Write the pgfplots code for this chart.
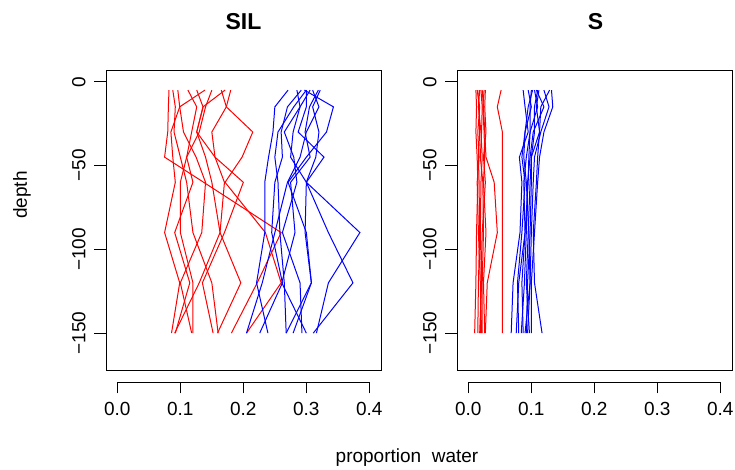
\documentclass[border=0pt]{standalone}
\usepackage{fontspec}
\setmainfont{Liberation Sans}
\usepackage{pgfplots}
\pgfplotsset{compat=1.18}
\definecolor{rred}{HTML}{FF0000}
\definecolor{rblue}{HTML}{0000FF}

\pgfplotsset{
  panel/.style={scale only axis, width=275pt, height=300pt,
    xmin=-0.018, xmax=0.4185, ymin=-172, ymax=7,
    xtick=\empty, ytick={0,-50,-100,-150}, yticklabels={0,−50,−100,−150},
    ytick pos=left, tick align=outside, major tick length=12pt,
    tick style={black, line width=0.8pt},
    axis line style={black, line width=0.8pt},
    yticklabel shift=5pt,
    yticklabel style={rotate=90, anchor=south, font=\fontsize{19}{22}\selectfont},
    every axis plot/.append style={line width=1pt, mark=none}},
  xdeco/.style={scale only axis, width=252pt, height=10pt,
    xmin=0, xmax=0.4, ymin=0, ymax=1,
    axis x line=bottom, axis y line=none, x axis line style={-, line width=0.8pt},
    xtick={0,0.1,0.2,0.3,0.4}, xticklabels={0.0,0.1,0.2,0.3,0.4}, ytick=\empty,
    tick align=outside, major tick length=11.4pt, tick style={black, line width=0.8pt},
    xticklabel shift=5pt,
    xticklabel style={font=\fontsize{19}{22}\selectfont}}
}

\begin{document}
\begin{tikzpicture}[x=1pt, y=1pt]
\path[use as bounding box] (0,0) rectangle (735,470);

% ---------------- left panel: SIL ----------------
\begin{axis}[panel, at={(106pt,100pt)}, anchor=south west]
\addplot[rred] coordinates {(0.082,-5)(0.081,-15)(0.080,-30)(0.075,-45)(0.137,-60)(0.260,-90)(0.222,-120)(0.181,-150)};
\addplot[rred] coordinates {(0.180,-5)(0.173,-15)(0.215,-30)(0.198,-45)(0.171,-60)(0.235,-90)(0.260,-120)(0.205,-150)};
\addplot[rred] coordinates {(0.096,-5)(0.099,-15)(0.085,-30)(0.088,-45)(0.092,-60)(0.075,-90)(0.099,-120)(0.086,-150)};
\addplot[rred] coordinates {(0.112,-5)(0.126,-15)(0.118,-30)(0.110,-45)(0.120,-60)(0.091,-90)(0.115,-120)(0.092,-150)};
\addplot[rred] coordinates {(0.139,-5)(0.099,-15)(0.105,-30)(0.125,-45)(0.140,-60)(0.134,-90)(0.100,-120)(0.118,-150)};
\addplot[rred] coordinates {(0.126,-5)(0.136,-15)(0.126,-30)(0.140,-45)(0.150,-60)(0.163,-90)(0.196,-120)(0.159,-150)};
\addplot[rred] coordinates {(0.165,-5)(0.173,-15)(0.150,-30)(0.155,-45)(0.200,-60)(0.170,-90)(0.135,-120)(0.152,-150)};
\addplot[rred] coordinates {(0.171,-5)(0.136,-15)(0.126,-30)(0.155,-45)(0.170,-60)(0.163,-90)(0.130,-120)(0.091,-150)};
\addplot[rred] coordinates {(0.088,-5)(0.092,-15)(0.090,-30)(0.100,-45)(0.110,-60)(0.120,-90)(0.150,-120)(0.160,-150)};
\addplot[rred] coordinates {(0.150,-5)(0.140,-15)(0.130,-30)(0.110,-45)(0.100,-60)(0.100,-90)(0.120,-120)(0.120,-150)};
\addplot[rblue] coordinates {(0.271,-5)(0.250,-15)(0.247,-30)(0.240,-45)(0.234,-60)(0.234,-90)(0.221,-120)(0.239,-150)};
\addplot[rblue] coordinates {(0.292,-5)(0.270,-15)(0.260,-30)(0.262,-45)(0.250,-60)(0.245,-90)(0.262,-120)(0.226,-150)};
\addplot[rblue] coordinates {(0.297,-5)(0.343,-15)(0.332,-30)(0.300,-45)(0.271,-60)(0.300,-90)(0.308,-120)(0.279,-150)};
\addplot[rblue] coordinates {(0.300,-5)(0.300,-15)(0.287,-30)(0.328,-45)(0.300,-60)(0.335,-90)(0.374,-120)(0.311,-150)};
\addplot[rblue] coordinates {(0.306,-5)(0.290,-15)(0.279,-30)(0.275,-45)(0.300,-60)(0.385,-90)(0.335,-120)(0.316,-150)};
\addplot[rblue] coordinates {(0.319,-5)(0.305,-15)(0.298,-30)(0.306,-45)(0.275,-60)(0.282,-90)(0.261,-120)(0.300,-150)};
\addplot[rblue] coordinates {(0.285,-5)(0.290,-15)(0.265,-30)(0.280,-45)(0.285,-60)(0.262,-90)(0.290,-120)(0.293,-150)};
\addplot[rblue] coordinates {(0.310,-5)(0.320,-15)(0.300,-30)(0.290,-45)(0.270,-60)(0.250,-90)(0.230,-120)(0.205,-150)};
\addplot[rblue] coordinates {(0.300,-5)(0.280,-15)(0.255,-30)(0.250,-45)(0.255,-60)(0.258,-90)(0.265,-120)(0.268,-150)};
\addplot[rblue] coordinates {(0.322,-5)(0.310,-15)(0.320,-30)(0.315,-45)(0.300,-60)(0.298,-90)(0.308,-120)(0.268,-150)};
\end{axis}
\begin{axis}[xdeco, at={(117.3pt,88pt)}, anchor=south west]
\addplot[draw=none] coordinates {(0,0)};
\end{axis}

% ---------------- right panel: S ----------------
\begin{axis}[panel, at={(457pt,100pt)}, anchor=south west]
\addplot[rred] coordinates {(0.052,-5)(0.046,-15)(0.054,-30)(0.054,-45)(0.054,-60)(0.054,-90)(0.054,-120)(0.054,-150)};
\addplot[rred] coordinates {(0.022,-5)(0.024,-15)(0.026,-30)(0.028,-45)(0.041,-60)(0.046,-90)(0.030,-120)(0.027,-150)};
\addplot[rred] coordinates {(0.012,-5)(0.013,-15)(0.012,-30)(0.014,-45)(0.015,-60)(0.013,-90)(0.012,-120)(0.010,-150)};
\addplot[rred] coordinates {(0.015,-5)(0.017,-15)(0.018,-30)(0.016,-45)(0.017,-60)(0.018,-90)(0.016,-120)(0.015,-150)};
\addplot[rred] coordinates {(0.018,-5)(0.016,-15)(0.020,-30)(0.022,-45)(0.020,-60)(0.019,-90)(0.021,-120)(0.018,-150)};
\addplot[rred] coordinates {(0.020,-5)(0.022,-15)(0.021,-30)(0.019,-45)(0.023,-60)(0.024,-90)(0.022,-120)(0.022,-150)};
\addplot[rred] coordinates {(0.025,-5)(0.023,-15)(0.025,-30)(0.026,-45)(0.024,-60)(0.028,-90)(0.024,-120)(0.026,-150)};
\addplot[rred] coordinates {(0.027,-5)(0.026,-15)(0.028,-30)(0.024,-45)(0.027,-60)(0.022,-90)(0.020,-120)(0.019,-150)};
\addplot[rred] coordinates {(0.014,-5)(0.018,-15)(0.015,-30)(0.017,-45)(0.014,-60)(0.016,-90)(0.019,-120)(0.021,-150)};
\addplot[rblue] coordinates {(0.087,-5)(0.090,-15)(0.095,-30)(0.081,-45)(0.085,-60)(0.082,-90)(0.071,-120)(0.068,-150)};
\addplot[rblue] coordinates {(0.100,-5)(0.098,-15)(0.098,-30)(0.092,-45)(0.088,-60)(0.090,-90)(0.080,-120)(0.076,-150)};
\addplot[rblue] coordinates {(0.105,-5)(0.110,-15)(0.098,-30)(0.096,-45)(0.095,-60)(0.090,-90)(0.085,-120)(0.087,-150)};
\addplot[rblue] coordinates {(0.112,-5)(0.108,-15)(0.113,-30)(0.100,-45)(0.098,-60)(0.095,-90)(0.092,-120)(0.097,-150)};
\addplot[rblue] coordinates {(0.129,-5)(0.115,-15)(0.113,-30)(0.110,-45)(0.108,-60)(0.103,-90)(0.105,-120)(0.117,-150)};
\addplot[rblue] coordinates {(0.132,-5)(0.134,-15)(0.120,-30)(0.113,-45)(0.110,-60)(0.105,-90)(0.100,-120)(0.100,-150)};
\addplot[rblue] coordinates {(0.095,-5)(0.100,-15)(0.090,-30)(0.088,-45)(0.092,-60)(0.096,-90)(0.098,-120)(0.090,-150)};
\addplot[rblue] coordinates {(0.102,-5)(0.095,-15)(0.090,-30)(0.085,-45)(0.090,-60)(0.085,-90)(0.078,-120)(0.080,-150)};
\addplot[rblue] coordinates {(0.110,-5)(0.105,-15)(0.105,-30)(0.100,-45)(0.100,-60)(0.098,-90)(0.094,-120)(0.092,-150)};
\addplot[rblue] coordinates {(0.120,-5)(0.128,-15)(0.115,-30)(0.105,-45)(0.103,-60)(0.100,-90)(0.098,-120)(0.094,-150)};
\addplot[rblue] coordinates {(0.108,-5)(0.120,-15)(0.103,-30)(0.098,-45)(0.094,-60)(0.092,-90)(0.089,-120)(0.084,-150)};
\end{axis}
\begin{axis}[xdeco, at={(468.3pt,88pt)}, anchor=south west]
\addplot[draw=none] coordinates {(0,0)};
\end{axis}

% ---------------- titles and labels ----------------
\node[font=\fontsize{23}{27}\selectfont\bfseries] at (243.5,448) {SIL};
\node[font=\fontsize{23}{27}\selectfont\bfseries] at (595.5,448) {S};
\node[font=\fontsize{19}{22}\selectfont, rotate=90] at (22,275) {depth};
\node[font=\fontsize{19}{22}\selectfont] at (407,12) {proportion\ \ water};
\end{tikzpicture}
\end{document}
